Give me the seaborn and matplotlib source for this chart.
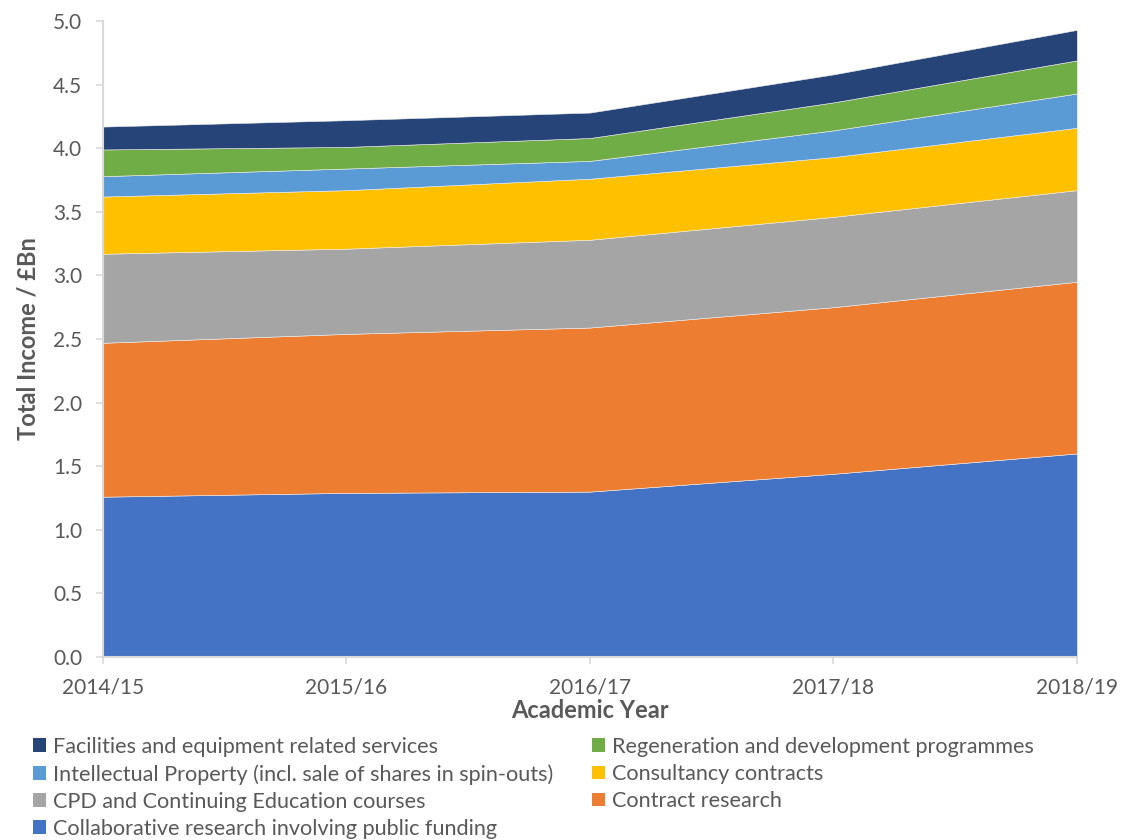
import matplotlib

matplotlib.use("Agg")

import matplotlib.pyplot as plt
import seaborn as sns
from matplotlib.patches import Patch

years = ["2014/15", "2015/16", "2016/17", "2017/18", "2018/19"]

# income by source, £bn (bottom of the stack first)
collaborative = [1.26, 1.29, 1.30, 1.44, 1.60]
contract = [1.21, 1.25, 1.29, 1.31, 1.35]
cpd = [0.70, 0.67, 0.69, 0.71, 0.72]
consultancy = [0.45, 0.46, 0.48, 0.47, 0.49]
intellectual = [0.16, 0.17, 0.14, 0.21, 0.27]
regeneration = [0.21, 0.17, 0.18, 0.22, 0.26]
facilities = [0.18, 0.21, 0.20, 0.22, 0.24]

labels = [
    "Collaborative research involving public funding",
    "Contract research",
    "CPD and Continuing Education courses",
    "Consultancy contracts",
    "Intellectual Property (incl. sale of shares in spin-outs)",
    "Regeneration and development programmes",
    "Facilities and equipment related services",
]
colors = ["#4472C4", "#ED7D31", "#A5A5A5", "#FFC000", "#5B9BD5", "#70AD47", "#264478"]

sns.set_theme(style="white")
plt.rcParams["font.family"] = ["Lato", "DejaVu Sans"]
text_color = "#595959"
axis_color = "#D9D9D9"

fig = plt.figure(figsize=(11.23, 8.40), dpi=100)
ax = fig.add_axes([0.0917, 0.2179, 0.8672, 0.7571])

x = list(range(len(years)))
series = [collaborative, contract, cpd, consultancy, intellectual, regeneration, facilities]
ax.stackplot(x, *series, colors=colors, labels=labels, linewidth=0.4, edgecolor="#EEEEEE")

ax.set_xlim(0, len(years) - 1)
ax.set_ylim(0, 5.0)
ax.set_yticks([i * 0.5 for i in range(11)])
ax.set_yticklabels([f"{i * 0.5:.1f}" for i in range(11)])
ax.set_xticks(x)
ax.set_xticklabels(years)

for side in ["top", "right"]:
    ax.spines[side].set_visible(False)
for side in ["left", "bottom"]:
    ax.spines[side].set_color(axis_color)
    ax.spines[side].set_linewidth(1.5)

ax.tick_params(axis="y", left=True, length=5, width=1.2, color=axis_color,
               labelsize=15, labelcolor=text_color, pad=10)
ax.tick_params(axis="x", bottom=True, length=5, width=1.2, color=axis_color,
               labelsize=15, labelcolor=text_color, pad=10)

ax.set_xlabel("Academic Year", fontsize=17, fontweight="bold", color=text_color, labelpad=1)
ax.set_ylabel("Total Income / £Bn", fontsize=17, fontweight="bold", color=text_color, labelpad=10)
ax.grid(False)

# legend: two columns, filled row by row in reverse stack order
order = [6, 4, 2, 0, 5, 3, 1]
handles = [Patch(facecolor=colors[i], edgecolor="none") for i in order]
fig.legend(
    handles,
    [labels[i] for i in order],
    loc="upper left",
    bbox_to_anchor=(0.022, 0.133),
    ncol=2,
    frameon=False,
    fontsize=15.6,
    labelcolor=text_color,
    handlelength=0.6,
    handleheight=0.6,
    handletextpad=0.3,
    columnspacing=1.8,
    labelspacing=0.33,
    borderaxespad=0,
)

fig.savefig("out.png", dpi=100)
